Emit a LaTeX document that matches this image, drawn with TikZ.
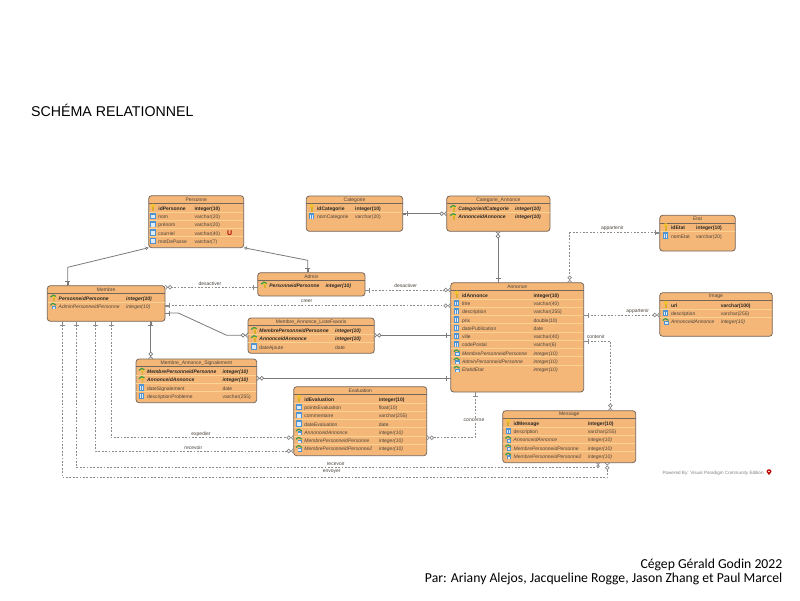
\documentclass[tikz,border=0pt]{standalone}
\usepackage{fontspec}
\setmainfont{Liberation Sans}
\newfontfamily\carlitofont{Carlito}
\usepackage{xcolor}
\definecolor{boxfill}{HTML}{F5B778}
\definecolor{boxline}{HTML}{75665A}
\definecolor{rowline}{HTML}{F9D294}
\definecolor{relline}{HTML}{7A7A7A}
\definecolor{dashline}{HTML}{8A8A8A}
\definecolor{keyyellow}{HTML}{F2C230}
\definecolor{colblue}{HTML}{4F93D2}
\definecolor{fkgreen}{HTML}{3E9A4A}
\definecolor{rowtext}{HTML}{4A433D}
\usetikzlibrary{arrows.meta}
\tikzset{
entitybox/.style={draw=boxline, fill=boxfill, line width=0.8pt, rounded corners=3pt, inner sep=0pt, outer sep=0pt, anchor=north west},
rowk/.style={inner sep=0pt, anchor=mid west, font=\fontsize{5}{6}\selectfont\bfseries, text=black!85},
rowc/.style={inner sep=0pt, anchor=mid west, font=\fontsize{5}{6}\selectfont, text=rowtext},
rowf/.style={inner sep=0pt, anchor=mid west, font=\fontsize{5}{6}\selectfont\itshape, text=rowtext},
rowp/.style={inner sep=0pt, anchor=mid west, font=\fontsize{5}{6}\selectfont\bfseries\itshape, text=black!85},
titletext/.style={inner sep=0pt, font=\fontsize{5}{6}\selectfont, text=rowtext},
rellabel/.style={inner sep=0.5pt, font=\fontsize{5}{6}\selectfont, text=rowtext},
relsolid/.style={draw=relline, line width=0.8pt, line join=round},
reldash/.style={draw=dashline, line width=0.8pt, line join=round, dash pattern=on 1.8pt off 1.6pt},
onebar/.tip={Bar[width=5pt,line width=.7pt] Rectangle[length=4pt,width=.7pt]},
zeromany/.tip={Circle[open,fill=white,length=4.4pt,line width=.7pt] Straight Barb[reversed,length=2pt,width=4.4pt,line width=.7pt]},
zerotight/.tip={Circle[open,fill=white,length=3.4pt,line width=.7pt] Straight Barb[reversed,length=1.1pt,width=3.8pt,line width=.6pt]},
genhead/.tip={Triangle[open,fill=white,length=3pt,width=3.6pt,line width=.6pt]}
}
\newcommand{\iconc}[2]{\begin{scope}[shift={(#1,#2)}]
\fill[colblue] (-2.6,-3.2) rectangle (2.6,3.2);
\fill[white!80!colblue] (-1.7,-1.3) rectangle (-0.3,2.5);
\fill[white!80!colblue] (0.3,-1.3) rectangle (1.7,2.5);
\end{scope}}
\newcommand{\iconk}[2]{\begin{scope}[shift={(#1,#2)}]
\fill[keyyellow] (0,-2) circle (2.1);
\fill[keyyellow!90!black] (-0.9,-1) rectangle (0.9,3.6);
\end{scope}}
\newcommand{\iconf}[2]{\begin{scope}[shift={(#1,#2)}]
\fill[colblue] (-1.4,-0.4) rectangle (2.8,3.4);
\fill[white!80!colblue] (-0.6,1) rectangle (2,2.8);
\draw[fkgreen, line width=1.2pt] (-2.8,-0.6) .. controls (-1.2,-3.2) and (1,-3) .. (2.8,-0.8);
\end{scope}}
\newcommand{\iconp}[2]{\begin{scope}[shift={(#1,#2)}]
\fill[keyyellow] (0.9,-0.6) circle (1.9);
\fill[keyyellow!90!black] (0.1,-0.2) rectangle (1.7,3.6);
\draw[fkgreen, line width=1.2pt] (-2.8,-0.6) .. controls (-1.2,-3.2) and (1,-3) .. (2.8,-1.4);
\end{scope}}
\newcommand{\entity}[9]{
\pgfmathsetmacro\boxw{#4-#2}
\pgfmathsetmacro\boxh{#5-#3}
\pgfmathsetmacro\midx{(#2+#4)/2}
\node[entitybox, minimum width=\boxw pt, minimum height=\boxh pt] (#1) at (#2,#3) {};
\node[titletext] (#1title) at (\midx,#3+3.9) {#6};
\draw[boxline, line width=0.8pt] (#2,#3+7.6) -- (#4,#3+7.6);
\foreach \ic/\nm/\ty [count=\i from 0] in {#9}{
\pgfmathsetmacro\ry{#3+12+8.25*\i}
\ifnum\i>0
\draw[rowline, line width=0.7pt] (#2+0.4,\ry-4.1) -- (#4-0.4,\ry-4.1);
\fi
\csname icon\ic\endcsname{#7}{\ry}
\node[row\ic] (#1n\i) at (#7+5.2,\ry) {\nm};
\node[row\ic] (#1t\i) at (#8,\ry) {\ty};
}
}
\begin{document}
\begin{tikzpicture}[x=1pt,y=-1pt]
\useasboundingbox (0,0) rectangle (800,600);
\node[anchor=mid west, inner sep=0pt, font=\fontsize{14.2}{16}\selectfont] (schema) at (31,114) {SCHÉMA RELATIONNEL};
\node[anchor=mid east, inner sep=0pt, font=\fontsize{13.7}{15}\selectfont\carlitofont] (college) at (782.5,566) {Cégep Gérald Godin 2022};
\node[anchor=mid east, inner sep=0pt, font=\fontsize{13.7}{15}\selectfont\carlitofont] (auteurs) at (782.5,579.5) {Par: Ariany Alejos, Jacqueline Rogge, Jason Zhang et Paul Marcel};
\entity{personne}{148.7}{195.7}{243.7}{247.7}{Personne}{153}{194.3}{k/idPersonne/integer(10), c/nom/varchar(20), c/prénom/varchar(20), c/courriel/varchar(40), c/motDePasse/varchar(7)}
\node[inner sep=0pt, text=red!70!black, font=\fontsize{7}{8}\selectfont\bfseries] (unique) at (229.7,232.7) {U};
\entity{categorie}{306.3}{196}{402.7}{231.3}{Categorie}{311.7}{355}{k/idCategorie/integer(10), c/nomCategorie/varchar(20)}
\entity{catannonce}{446.7}{196}{550}{231.3}{Categorie\_Annonce}{453}{515}{p/CategorieidCategorie/integer(10), p/AnnonceidAnnonce/integer(10)}
\entity{etat}{659.7}{215.3}{735.3}{251}{Etat}{665.7}{696}{k/idEtat/integer(10), c/nomEtat/varchar(20)}
\entity{membre}{47.3}{285.7}{165}{321.3}{Membre}{53.3}{126}{p/PersonneidPersonne/integer(10), f/AdminPersonneidPersonne/integer(10)}
\entity{admin}{257.7}{272.7}{365}{296}{Admin}{264}{325.3}{p/PersonneidPersonne/integer(10)}
\entity{annonce}{450.7}{282.7}{583.7}{392}{Annonce}{456.7}{533.3}{k/idAnnonce/integer(10), c/titre/varchar(40), c/description/varchar(255), c/prix/double(10), c/datePublication/date, c/ville/varchar(40), c/codePostal/varchar(6), f/MembrePersonneidPersonne/integer(10), f/AdminPersonneidPersonne/integer(10), f/EtatidEtat/integer(10)}
\entity{image}{659.7}{292.7}{772.3}{336.3}{Image}{665.7}{720.7}{k/url/varchar(100), c/description/varchar(255), f/AnnonceidAnnonce/integer(10)}
\entity{favoris}{248}{318}{374.3}{353.3}{Membre\_Annonce\_ListeFavoris}{254}{335}{p/MembrePersonneidPersonne/integer(10), p/AnnonceidAnnonce/integer(10), c/dateAjoute/date}
\entity{signale}{136}{359}{256.7}{402.7}{Membre\_Annonce\_Signalement}{141.7}{222.3}{p/MembrePersonneidPersonne/integer(10), p/AnnonceidAnnonce/integer(10), c/dateSignalement/date, c/descriptionProbleme/varchar(255)}
\entity{evaluation}{293.7}{386.7}{426.7}{455.7}{Evaluation}{299}{378.7}{k/idEvaluation/integer(10), c/pointsEvaluation/float(10), c/commentaire/varchar(255), c/dateEvaluation/date, f/AnnonceidAnnonce/integer(10), f/MembrePersonneidPersonne/integer(10), f/MembrePersonneidPersonne2/integer(10)}
\entity{message}{502.7}{410.7}{635.7}{462.7}{Message}{508.3}{587.7}{k/idMessage/integer(10), c/description/varchar(255), f/AnnonceidAnnonce/integer(10), f/MembrePersonneidPersonne/integer(10), f/MembrePersonneidPersonne2/integer(10)}
\draw[relsolid, onebar-genhead] (membre.north -| 67.7,0) -- (67.7,267.3) -- (personne.south west);
\draw[relsolid, onebar-genhead] (admin.north -| 307.7,0) -- (307.7,260.3) -- (personne.south east);
\draw[reldash, zeromany-onebar] (membre.east |- 0,287.3) -- (admin.west |- 0,287.3);
\draw[reldash, onebar-zeromany] (admin.east |- 0,290) -- (annonce.west |- 0,290);
\draw[reldash, onebar-zeromany] (membre.east |- 0,305.7) -- (annonce.west |- 0,305.7);
\draw[relsolid, onebar-zeromany] (membre.east |- 0,313) -- (178.3,313) -- (226.7,335.3) -- (favoris.west |- 0,335.3);
\draw[relsolid, zeromany-onebar] (favoris.east |- 0,335.3) -- (annonce.west |- 0,335.3);
\draw[relsolid, onebar-zeromany] (categorie.east |- 0,213.7) -- (catannonce.west |- 0,213.7);
\draw[relsolid, zeromany-onebar] (catannonce.south -| 498,0) -- (annonce.north -| 498,0);
\draw[reldash, onebar-zeromany] (etat.west |- 0,232.7) -- (569.7,232.7) -- (annonce.north -| 569.7,0);
\draw[reldash, onebar-zeromany] (annonce.east |- 0,315) -- (image.west |- 0,315);
\draw[reldash, onebar-zeromany] (annonce.east |- 0,341) -- (610.3,341) -- (message.north -| 610.3,0);
\draw[reldash, onebar-zeromany] (annonce.south -| 475,0) -- (475,437.7) -- (evaluation.east |- 0,437.7);
\draw[relsolid, zeromany-onebar] (signale.east |- 0,378.3) -- (annonce.west |- 0,378.3);
\draw[relsolid, onebar-zeromany] (membre.south -| 150.7,0) -- (signale.north -| 150.7,0);
\draw[reldash, onebar-zeromany] (membre.south -| 111,0) -- (111,437.7) -- (evaluation.west |- 0,437.7);
\draw[reldash, onebar-zeromany] (membre.south -| 95.3,0) -- (95.3,451) -- (evaluation.west |- 0,451);
\draw[reldash, onebar-zerotight] (membre.south -| 76,0) -- (76,467.3) -- (598,467.3) -- (message.south -| 598,0);
\draw[reldash, onebar-zeromany] (membre.south -| 62.3,0) -- (62.3,477.7) -- (607.3,477.7) -- (message.south -| 607.3,0);
\node[rellabel] (lbldesactivera) at (210,283.7) {desactiver};
\node[rellabel] (lbldesactiverb) at (405.7,286) {desactiver};
\node[rellabel] (lblcreer) at (306.7,301) {creer};
\node[rellabel] (lblappartenira) at (612.3,228) {appartenir};
\node[rellabel] (lblappartenirb) at (637.7,311.7) {appartenir};
\node[rellabel] (lblcontenir) at (595.7,337) {contenir};
\node[rellabel, fill=white] (lblconcerne) at (474,419.7) {concerne};
\node[rellabel] (lblexpedier) at (201,434.3) {expedier};
\node[rellabel] (lblrecevoira) at (193.3,448) {recevoir};
\node[rellabel] (lblrecevoirb) at (335.7,463.7) {recevoir};
\node[rellabel] (lblenvoyer) at (331.7,471.3) {envoyer};
\node[anchor=mid west, inner sep=0pt, text=black!50, font=\fontsize{4.6}{5}\selectfont] (powered) at (662.3,472) {Powered By: Visual Paradigm Community Edition};
\fill[red!75!black] (769,475) -- (766.5,471.7) arc (180:360:2.5) -- cycle;
\fill[white] (769,471.5) circle (0.8);
\end{tikzpicture}
\end{document}
